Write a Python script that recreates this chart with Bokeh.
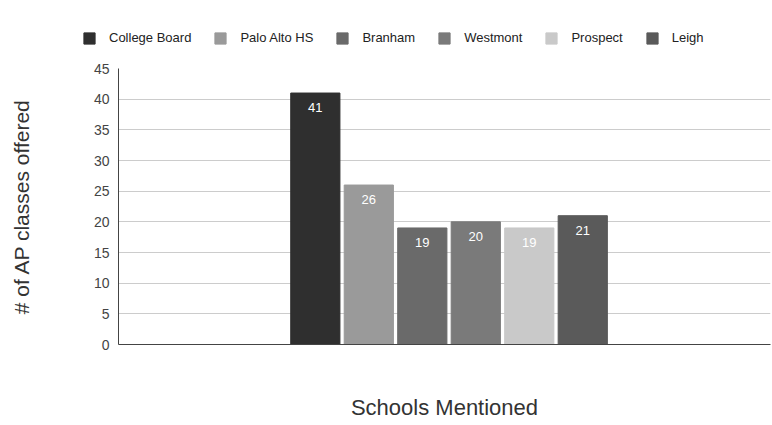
from bokeh.plotting import figure
from bokeh.layouts import column
from bokeh.models import ColumnDataSource, Legend, LegendItem, Range1d, FixedTicker
from bokeh.core.properties import value
from bokeh.embed import file_html
from bokeh.resources import INLINE

schools = ["College Board", "Palo Alto HS", "Branham", "Westmont", "Prospect", "Leigh"]
ap_classes = [41, 26, 19, 20, 19, 21]
colors = ["#2f2f2f", "#9a9a9a", "#6a6a6a", "#7a7a7a", "#c9c9c9", "#5a5a5a"]
y_ticks = [0, 5, 10, 15, 20, 25, 30, 35, 40, 45]

LEG_H = 60

# legend strip on top (its ranges keep its bars out of view; only the legend shows)
pl = figure(width=772, height=LEG_H, output_backend="svg", toolbar_location=None,
            x_range=Range1d(-100, -99), y_range=Range1d(0, 1), x_axis_type=None, y_axis_type=None,
            min_border=0)
pl.outline_line_color = None
pl.grid.grid_line_color = None
pl.frame_align = False

p = figure(width=772, height=425 - LEG_H, output_backend="svg", toolbar_location=None,
           x_range=Range1d(-3.68, 8.51), y_range=Range1d(0, 45),
           min_border_left=118, min_border_right=2, min_border_top=68 - LEG_H, min_border_bottom=81)
p.outline_line_color = None
p.frame_align = False

items = []
for i, (s, v, c) in enumerate(zip(schools, ap_classes, colors)):
    src = ColumnDataSource(dict(x=[i], top=[v], lab=[str(v)]))
    p.vbar(x="x", top="top", width=0.92, source=src, fill_color=c, line_color=c)
    p.text(x="x", y="top", text="lab", source=src, text_align="center", text_baseline="top",
           y_offset=10, text_color="white", text_font_size="13px",
           text_font=value("Liberation Sans"))
    lr = pl.vbar(x="x", top="top", width=0.92, source=src, fill_color=c, line_color=c)
    items.append(LegendItem(label=s, renderers=[lr]))

legend = Legend(items=items, orientation="horizontal", location=(82, 15),
                glyph_width=14, glyph_height=14, label_standoff=13, spacing=22,
                label_text_font="Liberation Sans", label_text_font_size="13px",
                label_text_color="#222222", background_fill_alpha=0, border_line_color=None,
                padding=0, margin=0, label_height=14)
pl.add_layout(legend, "center")

p.yaxis.ticker = FixedTicker(ticks=y_ticks)
p.ygrid.ticker = FixedTicker(ticks=y_ticks)
p.xgrid.grid_line_color = None
p.ygrid.grid_line_color = "#cccccc"
p.yaxis.major_tick_out = 0
p.yaxis.major_tick_in = 0
p.yaxis.minor_tick_out = 0
p.yaxis.minor_tick_in = 0
p.yaxis.major_label_text_font = "Liberation Sans"
p.yaxis.major_label_text_font_size = "14px"
p.yaxis.major_label_text_color = "#444444"
p.yaxis.major_label_standoff = 9
p.yaxis.axis_line_color = "#444444"
p.yaxis.axis_label = "# of AP classes offered"
p.yaxis.axis_label_text_font = "Liberation Sans"
p.yaxis.axis_label_text_font_size = "21px"
p.yaxis.axis_label_text_font_style = "normal"
p.yaxis.axis_label_text_color = "#333333"
p.yaxis.axis_label_standoff = 58

p.xaxis.ticker = FixedTicker(ticks=[])
p.xaxis.major_tick_out = 0
p.xaxis.minor_tick_out = 0
p.xaxis.major_label_text_font_size = "0px"
p.xaxis.axis_line_color = "#444444"
p.xaxis.axis_label = "Schools Mentioned"
p.xaxis.axis_label_text_font = "Liberation Sans"
p.xaxis.axis_label_text_font_size = "22px"
p.xaxis.axis_label_text_font_style = "normal"
p.xaxis.axis_label_text_color = "#333333"
p.xaxis.axis_label_standoff = 50

layout = column(pl, p, spacing=0)
open("out.html", "w").write(file_html(layout, INLINE))
